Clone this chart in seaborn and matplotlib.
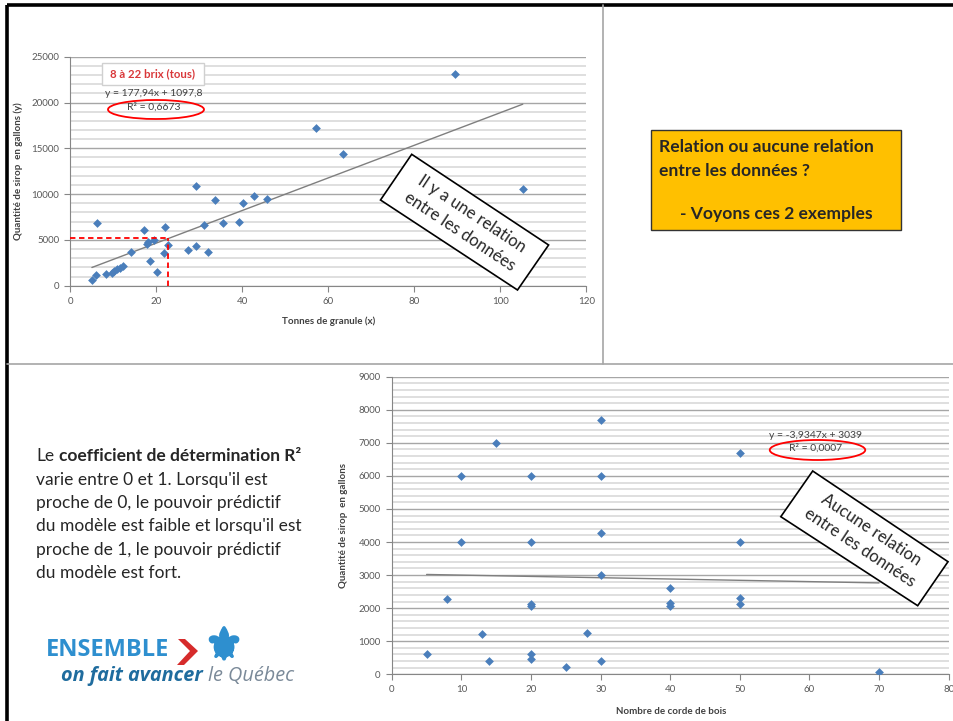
import numpy as np
import matplotlib
matplotlib.use("Agg")
import matplotlib.pyplot as plt
import matplotlib.patheffects as pe
import seaborn as sns
from matplotlib.patches import Ellipse, Polygon, Rectangle
from matplotlib.ticker import MultipleLocator

# --- Data ---
# Chart 1: tonnes de granule vs sirop
granule_x = [5.0, 6.0, 6.1, 8.3, 9.6, 10.2, 10.9, 11.5, 12.2, 14.1, 17.1, 17.8, 18.0,
             18.6, 19.5, 20.2, 21.8, 22.1, 22.7, 27.3, 29.1, 29.1, 31.0, 31.9, 33.7,
             35.5, 39.1, 40.2, 42.6, 45.7, 57.2, 63.5, 89.5, 105.2]
sirop_y = [620, 1160, 6800, 1330, 1360, 1620, 1800, 1950, 2100, 3710, 6080, 4590, 4800,
           2660, 4950, 1490, 3530, 6370, 4480, 3890, 4370, 10920, 6620, 3680, 9320,
           6800, 6910, 9060, 9830, 9430, 17250, 14410, 23140, 10590]
slope_1, intercept_1 = 177.94, 1097.8
guide_x, guide_y = 22.8, 5250  # red dashed reading lines

# Chart 2: nombre de corde de bois vs sirop
corde_x = [5, 8, 10, 10, 13, 14, 15, 20, 20, 20, 20, 20, 20, 25, 28,
           30, 30, 30, 30, 30, 40, 40, 40, 50, 50, 50, 50, 70]
sirop2_y = [600, 2280, 6000, 4000, 1220, 400, 7000, 6000, 4000, 2120, 2060, 600, 470, 220, 1260,
            7680, 6000, 4270, 3000, 390, 2600, 2150, 2080, 6700, 4000, 2320, 2120, 80]
slope_2, intercept_2 = -3.9347, 3039

sns.set_style("white")
plt.rcParams["font.family"] = ["Lato", "DejaVu Sans"]

W, H = 954, 721
fig = plt.figure(figsize=(W / 100, H / 100), dpi=100)


def rect(x0, y0, x1, y1):
    # pixel box (top-left origin) -> figure fraction rect
    return [x0 / W, 1 - y1 / H, (x1 - x0) / W, (y1 - y0) / H]


def excel_axes(ax, xmax, xstep, ymax, ymajor, yminor):
    ax.set_xlim(0, xmax)
    ax.set_ylim(0, ymax)
    ax.xaxis.set_major_locator(MultipleLocator(xstep))
    ax.yaxis.set_major_locator(MultipleLocator(ymajor))
    ax.yaxis.set_minor_locator(MultipleLocator(yminor))
    ax.grid(axis="y", which="major", color="#a6a6a6", lw=1.0)
    ax.grid(axis="y", which="minor", color="#d6d6d6", lw=1.1)
    ax.grid(axis="x", visible=False)
    ax.set_axisbelow(True)
    ax.set_facecolor("none")
    for s in ["top", "right"]:
        ax.spines[s].set_visible(False)
    for s in ["left", "bottom"]:
        ax.spines[s].set_color("#868686")
        ax.spines[s].set_linewidth(0.8)
    ax.tick_params(which="major", direction="out", length=4, width=0.8, color="#868686",
                   labelsize=7, labelcolor="#595959", left=True, bottom=True, pad=4)
    ax.tick_params(which="minor", length=0)


# --- Chart 1 ---
ax1 = fig.add_axes(rect(70.4, 56.7, 586.4, 285.7))
excel_axes(ax1, 120, 20, 25000, 5000, 1000)
sns.scatterplot(x=granule_x, y=sirop_y, marker="D", s=20, color="#4A7EBB",
                linewidth=0, ax=ax1, zorder=3)
xs1 = np.array([min(granule_x), max(granule_x)])
sns.lineplot(x=xs1, y=slope_1 * xs1 + intercept_1, color="#7f7f7f", lw=1, ax=ax1)
ax1.plot([0, guide_x], [guide_y, guide_y], color="red", lw=1.3, dashes=(3, 2), zorder=4)
ax1.plot([guide_x, guide_x], [0, guide_y], color="red", lw=1.3, dashes=(3, 2), zorder=4)
ax1.set_xlabel("Tonnes de granule (x)", fontsize=7, fontweight="bold", color="#404040")
ax1.set_ylabel("Quantité de sirop  en gallons (y)", fontsize=7, fontweight="bold", color="#404040")
ax1.xaxis.set_label_coords(0.5, -0.135)
ax1.yaxis.set_label_coords(-0.092, 0.5)

# --- Chart 2 ---
ax2 = fig.add_axes(rect(391.8, 376.7, 948.7, 674.3))
excel_axes(ax2, 80, 10, 9000, 1000, 200)
sns.scatterplot(x=corde_x, y=sirop2_y, marker="D", s=20, color="#4A7EBB",
                linewidth=0, ax=ax2, zorder=3)
xs2 = np.array([min(corde_x), max(corde_x)])
sns.lineplot(x=xs2, y=slope_2 * xs2 + intercept_2, color="#7f7f7f", lw=1, ax=ax2)
ax2.set_xlabel("Nombre de corde de bois", fontsize=7, fontweight="bold", color="#404040")
ax2.set_ylabel("Quantité de sirop  en gallons", fontsize=7, fontweight="bold", color="#404040")
ax2.xaxis.set_label_coords(0.501, -0.109)
ax2.yaxis.set_label_coords(-0.079, 0.5)

# --- Slide overlay in pixel coordinates ---
ov = fig.add_axes([0, 0, 1, 1], zorder=10)
ov.set_xlim(0, W)
ov.set_ylim(H, 0)
ov.axis("off")
ov.patch.set_alpha(0)

# frame lines
ov.plot([7, W], [5, 5], color="black", lw=2.6, solid_capstyle="butt")
ov.plot([7, 7], [5, H], color="black", lw=2.6, solid_capstyle="butt")
ov.plot([603, 603], [5, 364], color="#a6a6a6", lw=1.2)
ov.plot([7, W], [364, 364], color="#a6a6a6", lw=1.2)

# chart 1 annotations
ov.add_patch(Rectangle((102, 63.3), 102, 21.7, facecolor="white", edgecolor="#d0d0d0", lw=1))
ov.text(153, 74, "8 à 22 brix (tous)", color="#d9383a", fontsize=8.2, fontweight="bold",
        ha="center", va="center")
ov.text(153.7, 94, "y = 177,94x + 1097,8", color="#404040", fontsize=7.5, ha="center", va="center")
ov.text(153.7, 107.3, "R² = 0,6673", color="#404040", fontsize=7.5, ha="center", va="center")
ov.add_patch(Ellipse((156, 109.5), 96, 19, facecolor="none", edgecolor="red", lw=1.3))

# chart 2 annotations
ov.text(816, 435, "y = -3,9347x + 3039", color="#404040", fontsize=7.5, ha="center", va="center")
ov.text(816, 448.3, "R² = 0,0007", color="#404040", fontsize=7.5, ha="center", va="center")
ov.add_patch(Ellipse((817.5, 450), 95.5, 20, facecolor="none", edgecolor="red", lw=1.3))

# rotated callout boxes
ov.add_patch(Polygon([(411.7, 154.3), (548.6, 245), (517.5, 290), (380.5, 200)],
                     closed=True, facecolor="white", edgecolor="black", lw=1.2))
ov.text(465.5, 223, "Il y a une relation\nentre les données", rotation=-33.5,
        ha="center", va="center", multialignment="center",
        fontsize=12, linespacing=1.4)
ov.add_patch(Polygon([(812.7, 471), (948, 561.7), (917.7, 605.7), (780.8, 516.7)],
                     closed=True, facecolor="white", edgecolor="black", lw=1.2))
ov.text(865.5, 539, "Aucune relation\nentre les données", rotation=-33.5,
        ha="center", va="center", multialignment="center",
        fontsize=12, linespacing=1.4)

# yellow question box
ov.add_patch(Rectangle((651, 130), 250, 100, facecolor="#FFC000", edgecolor="#333333", lw=1))
ov.text(659, 147, "Relation ou aucune relation", fontsize=12.6, fontweight="bold", va="center")
ov.text(659, 170.5, "entre les données ?", fontsize=12.6, fontweight="bold", va="center")
ov.text(680, 214, "- Voyons ces 2 exemples", fontsize=12.6, fontweight="bold", va="center")

# left paragraph
t0 = ov.text(36, 456, "Le", fontsize=12.5, va="center")
ov.annotate("coefficient de détermination R²", xy=(1, 0.5), xycoords=t0,
            xytext=(3.3, 0), textcoords="offset points", fontsize=12.5, fontweight="bold",
            va="center", ha="left")
para = ["varie entre 0 et 1. Lorsqu'il est",
        "proche de 0, le pouvoir prédictif",
        "du modèle est faible et lorsqu'il est",
        "proche de 1, le pouvoir prédictif",
        "du modèle est fort."]
for i, line in enumerate(para):
    ov.text(36, 479.5 + i * 23.4, line, fontsize=12.5, va="center")

# logo
ov.text(46, 650, "ENSEMBLE", family="Open Sans", fontsize=17, fontweight="bold",
        color="#2e8fcf", va="center")
ov.add_patch(Polygon([(178, 639), (185, 639), (198, 651), (184, 665), (177, 665), (190, 651)],
                     closed=True, facecolor="#d62b2b", edgecolor="none"))
ov.text(224, 647, "⚜", family="DejaVu Sans", fontsize=31, fontweight="bold", color="#2e8fcf",
        ha="center", va="center",
        path_effects=[pe.withStroke(linewidth=2.2, foreground="#2e8fcf")])
t1 = ov.text(61, 676, "on fait avancer", family="Open Sans", fontsize=14.3, fontweight="bold",
             fontstyle="italic", color="#1f6c9e", va="center")
ov.annotate("le Québec", xy=(1, 0.5), xycoords=t1, xytext=(3.5, 0), textcoords="offset points",
            family="Open Sans", fontsize=14.3, fontstyle="italic", color="#7b8a99",
            va="center", ha="left")

plt.savefig("out.png", dpi=100)
